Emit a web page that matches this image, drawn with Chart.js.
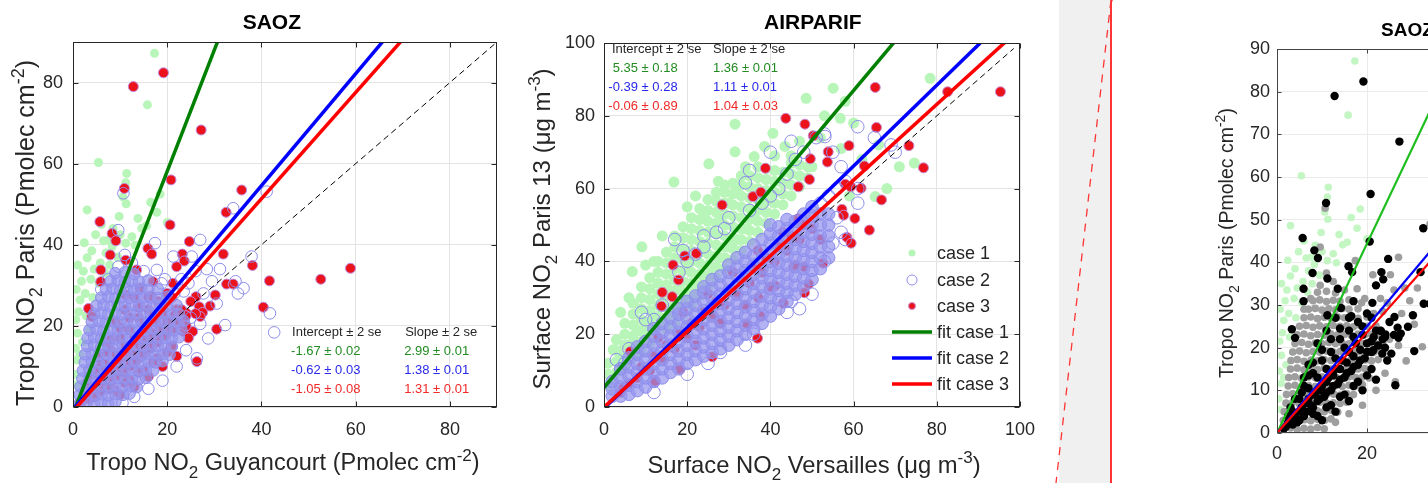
<!DOCTYPE html>
<html>
<head>
<meta charset="utf-8">
<script src="https://cdn.jsdelivr.net/npm/chart.js@4.4.1/dist/chart.umd.min.js"></script>
<style>
  html, body { margin: 0; padding: 0; width: 1428px; height: 483px; overflow: hidden; background: #fff; }
  .panel { position: absolute; top: 0; }
  #p1 { left: 0; width: 520px; height: 483px; }
  #p2 { left: 520px; width: 540px; height: 483px; }
  #gray { position: absolute; left: 1059px; top: 0; width: 52px; height: 483px; background: #f0f0f0; }
  #cut { position: absolute; left: 0; top: 0; }
  #frame { position: absolute; left: 1110px; top: -3px; width: 400px; height: 600px; border-left: 2px solid #ff3434; border-top: 2px solid #ff3434; border-top-left-radius: 6px; }
  #p3 { left: 1112px; width: 316px; height: 483px; overflow: hidden; }
  canvas { display: block; }
</style>
</head>
<body>
<div class="panel" id="p1"><canvas id="cv1" width="520" height="483"></canvas></div>
<div class="panel" id="p2"><canvas id="cv2" width="540" height="483"></canvas></div>
<div id="gray"></div>
<svg id="cut" width="1428" height="483"><line x1="1111" y1="0" x2="1056" y2="483" stroke="#ff3434" stroke-width="1.3" stroke-dasharray="8 7"/></svg>
<div id="frame"></div>
<div class="panel" id="p3"><canvas id="cv3" width="480" height="510"></canvas></div>
<script>
const FONT = '"Liberation Sans", Arial, Helvetica, sans-serif';
const INK = '#262626';

// ---- SAOZ: tropospheric NO2 columns (Pmolec cm-2) ----
const saozTicks = [0, 20, 40, 60, 80];
const saozOneToOne = [0, 90];
const saozIntercept = [-1.67, -0.62, -1.05];
const saozInterceptSe = [0.02, 0.03, 0.08];
const saozSlope = [2.99, 1.38, 1.31];
const saozSlopeSe = [0.01, 0.01, 0.01];

const saozCase1 = [
  [17.3,87.2],[15.8,74.5],[5.4,60.3],[11.4,57.6],[11.2,55.3],[10.6,51.8],[11.3,50.1],[3.0,48.6],[9.8,47.0],[17.8,48.0],
  [14.6,44.1],[15.6,44.7],[6.5,41.0],[7.6,41.2],[11.2,40.4],[13.2,39.9],[3.0,36.8],[8.3,39.5],[5.8,35.5],[9.5,37.0],
  [1.5,26.4],[2.6,28.0],[1.0,18.2],[0.9,11.6],[0.4,8.0],[0.5,14.5],[0.6,21.5],[1.2,23.5],[1.8,31.0],[2.2,33.5],
  [3.8,31.5],[4.5,34.0],[4.2,27.0],[5.5,30.5],[6.8,33.0],[7.8,35.0],[2.8,22.5],[3.5,19.0],[2.0,16.0],[1.5,13.0],
  [0.8,5.5],[4.8,42.5],[8.5,44.0],[12.5,42.0],[13.8,46.5],[16.5,50.5],[18.5,52.5],[20.0,45.5],[10.0,42.5],[2.4,40.5],
  [0.7,29.0],[1.0,35.0],[4.0,38.5],[6.0,45.0],[7.0,38.0]
];

// case 2, dense core of the cloud
const saozCase2Core = [
  [1.5,1],[3,1.2],[4.5,0.8],[6,1.1],[7.5,0.9],[9,1.3],
  [1.4,3],[3,3.2],[4.6,2.8],[6.1,3.1],[7.5,2.9],[9,3.2],[10.6,3],[12,3.3],
  [1.6,5],[3.1,5.2],[4.5,4.8],[6,5.1],[7.6,4.9],[9,5.2],[10.5,5],[12.1,5.3],[13.5,4.9],
  [2,7],[3.5,7.2],[5,6.8],[6.5,7.1],[8,6.9],[9.5,7.2],[11,7],[12.5,7.1],[14,6.9],[15.5,7.2],
  [2.1,9],[3.5,9.2],[5,8.8],[6.6,9.1],[8,8.9],[9.5,9.2],[11,9],[12.6,9.1],[14,8.9],[15.5,9.2],[17,9],
  [2.5,11],[4,11.2],[5.5,10.8],[7,11.1],[8.5,10.9],[10,11.2],[11.5,11],[13,11.1],[14.5,10.9],[16,11.2],[17.5,11],[19,11.3],
  [2.6,13],[4,13.2],[5.5,12.8],[7,13.1],[8.6,12.9],[10,13.2],[11.5,13],[13,13.1],[14.6,12.9],[16,13.2],[17.5,13],[19,13.1],[20.5,12.9],
  [3,15],[4.5,15.2],[6,14.8],[7.5,15.1],[9,14.9],[10.5,15.2],[12,15],[13.5,15.1],[15,14.9],[16.5,15.2],[18,15],[19.5,15.1],[21,14.9],
  [3.1,17],[4.5,17.2],[6,16.8],[7.6,17.1],[9,16.9],[10.5,17.2],[12,17],[13.6,17.1],[15,16.9],[16.5,17.2],[18,17],[19.6,17.1],[21,16.9],[22.5,17.2],
  [3.5,19],[5,19.2],[6.5,18.8],[8,19.1],[9.5,18.9],[11,19.2],[12.5,19],[14,19.1],[15.5,18.9],[17,19.2],[18.5,19],[20,19.1],[21.5,18.9],[23,19.2],
  [4,21],[5.5,21.2],[7,20.8],[8.5,21.1],[10,20.9],[11.5,21.2],[13,21],[14.5,21.1],[16,20.9],[17.5,21.2],[19,21],[20.5,21.1],[22,20.9],[23.5,21.2],
  [4.5,23],[6,23.2],[7.5,22.8],[9,23.1],[10.5,22.9],[12,23.2],[13.5,23],[15,23.1],[16.5,22.9],[18,23.2],[19.5,23],[21,23.1],[22.5,22.9],
  [5,25],[6.5,25.2],[8,24.8],[9.5,25.1],[11,24.9],[12.5,25.2],[14,25],[15.5,25.1],[17,24.9],[18.5,25.2],[20,25],[22,25.1],
  [6,27],[7.5,27.2],[9,26.8],[10.5,27.1],[12,26.9],[13.5,27.2],[15,27],[16.5,27.1],[18,26.9],[20,27.2],
  [7,29],[8.5,29.2],[10,28.8],[11.5,29.1],[13,28.9],[14.5,29.2],[16,29],[18,29.1],
  [8,31],[9.5,31.2],[11,30.8],[12.5,31.1],[14,30.9],[16,31.2],
  [9,33],[11,33.2],[13,32.8]
];
// case 2, isolated circles around the cloud
const saozCase2Outer = [
  [41.1,53.1],[34.0,49.0],[27.0,41.2],[37.9,37.1],[36.2,29.3],[41.8,23.1],[42.7,18.4],[32.3,20.2],[28.7,16.9],[26.3,12.0],
  [10.7,52.7],[9.6,43.6],[17.4,40.4],[18.8,30.5],[9.6,34.6],[21.3,37.1],[25.2,37.1],[28.4,34.0],[27.7,28.0],[31.2,34.0],
  [17.8,33.8],[24.5,30.5],[26,33.5],[29.5,31],[30.5,25.5],[23.5,28.5],[25,22],[27,20.5],[21.5,28],[19.5,31.5],
  [15,33.5],[12.5,35.5],[11,37.5],[7.5,31.5],[6,29],[23,31.5],[34.5,31],[22,10],[24,14],[19,6.5],[16,4.5],[13,2.5],[10.5,1],[35,28]
];
const saozCase2 = saozCase2Core.concat(saozCase2Outer);

const saozCase3 = [
  [19.2,82.4],[12.8,79.0],[27.2,68.3],[20.8,56.0],[35.8,53.5],[10.9,53.9],[20.6,44.9],[32.5,48.0],[5.7,45.7],[8.3,42.8],
  [9.1,41.0],[7.9,37.5],[11.2,36.2],[15.9,39.1],[16.7,37.7],[24.7,40.8],[23.2,37.7],[23.6,36.0],[31.9,37.7],[38.1,34.9],
  [41.7,31.1],[52.6,31.5],[58.9,34.2],[40.4,24.6],[32.6,30.3],[34.0,30.3],[30.2,27.6],[5.9,33.8],[5.9,30.9],[13.5,33.8],
  [14.2,29.3],[11.2,27.6],[17.0,30.9],[16.5,27.4],[21.2,30.5],[22.0,34.6],[26.1,27.2],[29.1,24.9],[23.1,23.9],[24.1,23.1],
  [21.4,19.4],[23.4,18.6],[25.4,18.6],[30.5,19.2],[26.3,11.2],[3.3,24.3],[4.0,22.3],[26.8,24.7],[27.5,23.3],[27.0,22.3],
  [1.5,1],[2.5,2.5],[3.5,2],[4,4],[5,3],[5.5,6],[6.5,5],[7,8],[8,6],[8.5,9.5],[9.5,8],[10,11],[11,9.5],[11.5,13],
  [12.5,11],[13,15],[14,12.5],[14.5,17],[15.5,14],[16,19],[17,15.5],[17.5,21],[18.5,17],[19,23],[20,19],[21,21.5],
  [22,24],[23.5,22],[6,11],[8,14],[10,17],[12,19],[14,22],[16,24],[18,26],[20,28],[4,8],[3,6],[9,4],[12,6.5],[15,9],
  [18,12],[21,15],[7,16],[9,21],[11,24],[13,27],[24,20],[25,26],[26,23],
  [2,1.5],[3,3.5],[4.5,2.5],[5,5],[6,4],[6.5,7],[7.5,6.5],[8,9],[9,7.5],[9.5,10],[10.5,8.5],[11,12],[12,10],[12.5,13.5],
  [13.5,11.5],[14,15],[15,13],[15.5,16.5],[16.5,14.5],[17,18],[18,16],[18.5,19.5],[19.5,17.5],[20,21],[21,19],[21.5,22.5],
  [22.5,20.5],[23,24],[24,22.5],[24.5,17],[5,8],[7,10.5],[9,13],[11,15],[13,17.5],[15,20],[17,22.5],[19,25],[21,27],
  [6,13],[8,16.5],[10,19.5],[12,22],[14,24.5],[16,27],[10,3],[13,5],[16,7.5],[19,10],[22,12.5],[20,13.5],[17,11],
  [14,8.5],[11,6],[8,4.5],[5.5,9.5],[7,13.5],[3.5,5],[2.5,4]
];

// ---- AIRPARIF: surface NO2 (ug m-3) ----
const airTicks = [0, 20, 40, 60, 80, 100];
const airOneToOne = [0, 98.5];
const airIntercept = [5.35, -0.39, -0.06];
const airInterceptSe = [0.18, 0.28, 0.89];
const airSlope = [1.36, 1.11, 1.04];
const airSlopeSe = [0.01, 0.01, 0.03];

const airCase1 = [
  [1,6],[1,9],[1,12],
  [3,9.5],[3,12.5],[3,15.5],[3,18.5],
  [5,11],[5,14],[5,17],[5,20],[5,23],
  [7,13.5],[7,16.5],[7,19.5],[7,22.5],[7,25.5],[7,28.5],
  [9,15],[9,18],[9,21],[9,24],[9,27],[9,30],[9,33],
  [11,17.5],[11,20.5],[11,23.5],[11,26.5],[11,29.5],[11,32.5],[11,35.5],
  [13,19],[13,22],[13,25],[13,28],[13,31],[13,34],[13,37],[13,40],
  [15,21.5],[15,24.5],[15,27.5],[15,30.5],[15,33.5],[15,36.5],[15,39.5],[15,42.5],
  [17,23],[17,26],[17,29],[17,32],[17,35],[17,38],[17,41],[17,44],[17,47],
  [19,25.5],[19,28.5],[19,31.5],[19,34.5],[19,37.5],[19,40.5],[19,43.5],[19,46.5],[19,49.5],
  [21,28],[21,31],[21,34],[21,37],[21,40],[21,43],[21,46],[21,49],[21,52],
  [23,30.5],[23,33.5],[23,36.5],[23,39.5],[23,42.5],[23,45.5],[23,48.5],[23,51.5],[23,54.5],
  [25,33],[25,36],[25,39],[25,42],[25,45],[25,48],[25,51],[25,54],[25,57],
  [27,35.5],[27,38.5],[27,41.5],[27,44.5],[27,47.5],[27,50.5],[27,53.5],[27,56.5],[27,59],
  [29,38],[29,41],[29,44],[29,47],[29,50],[29,53],[29,56],[29,59],[29,61],
  [31,40.5],[31,43.5],[31,46.5],[31,49.5],[31,52.5],[31,55.5],[31,58.5],[31,61.5],
  [33,43],[33,46],[33,49],[33,52],[33,55],[33,58],[33,61],[33,63.5],
  [35,45.5],[35,48.5],[35,51.5],[35,54.5],[35,57.5],[35,60.5],[35,63.5],
  [37,48],[37,51],[37,54],[37,57],[37,60],[37,63],[37,66],
  [39,50.5],[39,53.5],[39,56.5],[39,59.5],[39,62.5],[39,65.5],
  [41,53],[41,56],[41,59],[41,62],[41,65],
  [43,55.5],[43,58.5],[43,61.5],[43,64.5],
  [45,58],[45,61],[45,64],[45,67],
  [47,60.5],[47,63.5],[47,66.5],
  [49,63],[49,66],
  [2,8],[4,11],[4,14],[6,13],[6,17],[8,17],[8,21],[10,19],[10,23],[12,21],[12,25],[14,24],[14,29],[16,26],[16,31],
  [18,28],[18,34],[20,31],[20,38],[22,33],[22,41],[24,36],[24,44],[26,38],[26,48],[28,41],[28,52],[30,44],[30,56],
  [32,46],[32,59],[34,49],[36,52],[38,55],[40,58],
  [16.8,61.8],[25.2,66.8],[31.5,77.7],[31.5,70.1],[36.1,68.8],[38.6,71.6],[40.6,75.2],[43.5,71.6],[48.6,84.8],[55.1,87.6],
  [56.8,79.3],[78.4,90.3],[74.6,67.0],[65.2,57.8],[9.1,44],[6.8,37.2],[2.2,15.7],[22,58],[27.5,62],[34,66],
  [45,69],[52,74],[57,71],[62,68],[66,72],[68,60],[71,66],[59,58],[60,78],[50,66],
  [47,73],[41,69],[58,84],[53,80],[24,53],[20,55],[12,40],[14,47],[10,39],[4,26],[6,30]
];

const airCase2Core = [
  [2,3],[2,5],[2,7],
  [4,3],[4,5.5],[4,8],[4,10.5],
  [6,3.5],[6,6],[6,8.5],[6,11],[6,13.5],
  [8,4.5],[8,7],[8,9.5],[8,12],[8,14.5],[8,16.5],
  [10,5.5],[10,8],[10,10.5],[10,13],[10,15.5],[10,18],
  [12,7],[12,9.5],[12,12],[12,14.5],[12,17],[12,19.5],[12,21.5],
  [14,8],[14,10.5],[14,13],[14,15.5],[14,18],[14,20.5],[14,23],
  [16,9.5],[16,12],[16,14.5],[16,17],[16,19.5],[16,22],[16,24.5],
  [18,10.5],[18,13],[18,15.5],[18,18],[18,20.5],[18,23],[18,25.5],[18,27],
  [20,12],[20,14.5],[20,17],[20,19.5],[20,22],[20,24.5],[20,27],[20,29],
  [22,13],[22,15.5],[22,18],[22,20.5],[22,23],[22,25.5],[22,28],[22,30.5],
  [24,14],[24,16.5],[24,19],[24,21.5],[24,24],[24,26.5],[24,29],[24,31.5],[24,33],
  [26,15],[26,17.5],[26,20],[26,22.5],[26,25],[26,27.5],[26,30],[26,32.5],[26,35],
  [28,16],[28,18.5],[28,21],[28,23.5],[28,26],[28,28.5],[28,31],[28,33.5],[28,36],
  [30,17],[30,19.5],[30,22],[30,24.5],[30,27],[30,29.5],[30,32],[30,34.5],[30,37],[30,39],
  [32,18.5],[32,21],[32,23.5],[32,26],[32,28.5],[32,31],[32,33.5],[32,36],[32,38.5],[32,41],
  [34,20],[34,22.5],[34,25],[34,27.5],[34,30],[34,32.5],[34,35],[34,37.5],[34,40],[34,42.5],
  [36,21.5],[36,24],[36,26.5],[36,29],[36,31.5],[36,34],[36,36.5],[36,39],[36,41.5],[36,44.5],
  [38,23],[38,25.5],[38,28],[38,30.5],[38,33],[38,35.5],[38,38],[38,40.5],[38,43],[38,46],
  [40,25],[40,27.5],[40,30],[40,32.5],[40,35],[40,37.5],[40,40],[40,42.5],[40,45],[40,47.5],[40,50],
  [42,27],[42,29.5],[42,32],[42,34.5],[42,37],[42,39.5],[42,42],[42,44.5],[42,47],[42,49.5],
  [44,29],[44,31.5],[44,34],[44,36.5],[44,39],[44,41.5],[44,44],[44,46.5],[44,49],[44,51.5],
  [46,31],[46,33.5],[46,36],[46,38.5],[46,41],[46,43.5],[46,46],[46,48.5],[46,51],
  [48,33],[48,35.5],[48,38],[48,40.5],[48,43],[48,45.5],[48,48],[48,50.5],[48,53],
  [50,35],[50,37.5],[50,40],[50,42.5],[50,45],[50,47.5],[50,50],[50,52.5],[50,55],
  [52,38],[52,41],[52,44],[52,47],[52,50],[52,53],
  [54,41],[54,44],[54,47],[54,50],[54,53]
];
const airCase2Outer = [
  [3,13],[9,26],[10,24],[17,46],[19,43],[29,49],[34,61.6],[35,65],[40,70],[45,73],
  [51,74],[53.1,74.3],[55,70],[57,66],[61,77],[61,60],[61,56],[65,74],[69,72],[70,70],
  [53,75],[48,70],[46,68],[44,64],[42,60],[40,58],[38,56],[35,54],[30,52],[27,48],
  [24,44],[22,42],[20,40],[14,28],[12,24],[6,16],[5,12],[56,60],[58,62],[54,58],
  [52,56],[56,52],[57,48],[58,46],[12,4],[20,9],[28,15],[36,20],[44,26],[50,31],
  [53,40],[55,45],[25,12],[34,17],[45,29],[47,27],[24,47],[18,37]
];
const airCase2 = airCase2Core.concat(airCase2Outer);

const airCase3 = [
  [43.7,79.3],[48.3,77.7],[50.3,74.5],[65.2,87.8],[82.6,86.6],[95.3,86.6],[73.3,71.8],[58.9,71.8],[49.6,68.2],[53.7,67.3],
  [38.8,65.6],[76.8,65.7],[65.5,76.8],[53.9,70.1],[49.4,62.5],[28.4,55.5],[35.8,57.8],[37.7,59.0],[46.7,60.5],[58.0,61.2],
  [59.3,60.5],[61.8,60.1],[62.6,66.2],[57.2,54.3],[57.6,52.7],[60.3,51.8],[66.7,56.9],[63.8,48.6],[58.4,46.6],[59.4,45.0],
  [46.7,51.7],[52.6,39.5],[19.4,41.5],[16.6,39.0],[17.9,34.9],[14.0,31.5],[16.4,30.3],[13.8,27.7],[36.9,18.9],[26.0,13.8],
  [18.2,10.4],[12.3,7.1],[43.1,28.5],[41.1,33.3],[49.2,33.8],[48.2,31.4],[37.7,24.9],[34.4,22.8],[37.1,30.0],[45.6,38.5],
  [48.1,38.5],[22.2,42.2],[4.6,5.1],[6.3,15.2],
  [4,4],[6,6.5],[8,8],[9,11],[11,10],[12,14],[14,13],[15,17],[17,16],[18,20],[20,19],[21,23],[23,22],[24,26],
  [26,25],[27,29],[29,28],[30,32],[32,31],[33,35],[35,34],[36,38],[38,37],[39,41],[41,40],[42,44],[44,43],[45,47],
  [47,46],[48,50],[50,49],[13,19],[19,26],[25,31],[31,37],[37,43],[43,48],[22,17],[28,23],[34,28],[40,33],[46,39],[52,46]
];

// ---- third panel (same SAOZ data, other colouring, cut by the page edge) ----
const saoz3TicksX = [0, 20, 40, 60];
const saoz3TicksY = [0, 10, 20, 30, 40, 50, 60, 70, 80, 90];
const saoz3Intercept = [0, 0, 0];
const saoz3Slope = [2.22, 1.25, 1.18];

const pts = a => a.map(p => ({ x: p[0], y: p[1] }));
const fit = (b, m, x0, x1) => [{ x: x0, y: b + m * x0 }, { x: x1, y: b + m * x1 }];
const diag = r => [{ x: r[0], y: r[0] }, { x: r[1], y: r[1] }];

function rich(ctx, parts, cx, cy, size, rot) {
  const small = Math.round(size * 0.72);
  let w = 0;
  parts.forEach(p => { ctx.font = (p[1] ? small : size) + 'px ' + FONT; w += ctx.measureText(p[0]).width; });
  ctx.save();
  ctx.translate(cx, cy);
  ctx.rotate(rot);
  ctx.textAlign = 'left';
  ctx.textBaseline = 'alphabetic';
  ctx.fillStyle = INK;
  let x = -w / 2;
  parts.forEach(p => {
    ctx.font = (p[1] ? small : size) + 'px ' + FONT;
    const dy = p[1] === 1 ? size * 0.32 : p[1] === 2 ? -size * 0.42 : 0;
    ctx.fillText(p[0], x, size * 0.36 + dy);
    x += ctx.measureText(p[0]).width;
  });
  ctx.restore();
}

const decor = {
  id: 'decor',
  afterDatasetsDraw(chart, args, o) {
    const { ctx, chartArea: a } = chart;
    const sx = chart.scales.x, sy = chart.scales.y;
    ctx.save();
    const L = Math.round(a.left) + 0.5, R = Math.round(a.right) - 0.5;
    const T = Math.round(a.top) + 0.5, B = Math.round(a.bottom) - 0.5;
    ctx.strokeStyle = o.boxColor;
    ctx.lineWidth = 1;
    ctx.strokeRect(L, T, R - L, B - T);
    ctx.beginPath();
    sx.ticks.forEach(t => {
      const p = Math.round(sx.getPixelForValue(t.value)) + 0.5;
      ctx.moveTo(p, B); ctx.lineTo(p, B - o.tick);
      ctx.moveTo(p, T); ctx.lineTo(p, T + o.tick);
    });
    sy.ticks.forEach(t => {
      const p = Math.round(sy.getPixelForValue(t.value)) + 0.5;
      ctx.moveTo(L, p); ctx.lineTo(L + o.tick, p);
      ctx.moveTo(R, p); ctx.lineTo(R - o.tick, p);
    });
    ctx.stroke();
    ctx.restore();
  },
  afterDraw(chart, args, o) {
    const { ctx } = chart;
    const sx = chart.scales.x, sy = chart.scales.y;
    ctx.save();
    // stats table
    if (o.table) {
      const t = o.table;
      ctx.font = t.size + 'px ' + FONT;
      ctx.textBaseline = 'middle';
      ctx.fillStyle = INK;
      ctx.textAlign = 'left';
      ctx.fillText('Intercept \u00b1 2 se', sx.getPixelForValue(t.headX[0]), sy.getPixelForValue(t.headY));
      ctx.fillText('Slope \u00b1 2 se', sx.getPixelForValue(t.headX[1]), sy.getPixelForValue(t.headY));
      t.rows.forEach((ry, i) => {
        ctx.fillStyle = t.colors[i];
        ctx.textAlign = 'right';
        ctx.fillText(t.b[i].toFixed(2) + ' \u00b1 ' + t.bse[i].toFixed(2), sx.getPixelForValue(t.bRight), sy.getPixelForValue(ry));
        ctx.textAlign = 'left';
        ctx.fillText(t.m[i].toFixed(2) + ' \u00b1 ' + t.mse[i].toFixed(2), sx.getPixelForValue(t.mLeft), sy.getPixelForValue(ry));
      });
    }
    // legend inside the axes
    if (o.legend) {
      const g = o.legend;
      ctx.font = g.size + 'px ' + FONT;
      ctx.textAlign = 'left';
      ctx.textBaseline = 'middle';
      g.items.forEach((label, i) => {
        const ds = chart.data.datasets.find(d => d.label === label);
        const y = g.rows[i];
        if (ds.showLine) {
          ctx.strokeStyle = ds.borderColor;
          ctx.lineWidth = ds.borderWidth;
          ctx.beginPath(); ctx.moveTo(g.lineX[0], y); ctx.lineTo(g.lineX[1], y); ctx.stroke();
        } else {
          ctx.beginPath();
          ctx.arc(g.markX, y, ds.legendRadius, 0, Math.PI * 2);
          if (!ds.legendOpen) { ctx.fillStyle = ds.legendFill || ds.backgroundColor; ctx.fill(); }
          if (ds.borderWidth) { ctx.lineWidth = 1; ctx.strokeStyle = ds.borderColor; ctx.stroke(); }
        }
        ctx.fillStyle = INK;
        ctx.fillText(label, g.textX, y + 1);
      });
    }
    // title
    ctx.font = 'bold ' + o.title.size + 'px ' + FONT;
    ctx.fillStyle = '#000';
    ctx.textAlign = 'center';
    ctx.textBaseline = 'middle';
    ctx.fillText(o.title.text, sx.getPixelForValue(o.title.x), o.title.y);
    // axis labels with sub/superscripts
    rich(ctx, o.xTitle.parts, o.xTitle.cx, o.xTitle.cy, o.xTitle.size, 0);
    rich(ctx, o.yTitle.parts, o.yTitle.cx, o.yTitle.cy, o.yTitle.size, -Math.PI / 2);
    ctx.restore();
  }
};

function axis(ticks, min, max, pad, size, fitSize, isX, gridColor) {
  return {
    type: 'linear', min, max,
    afterBuildTicks: s => { s.ticks = ticks.map(v => ({ value: v })); },
    afterFit: s => { if (isX) s.height = fitSize; else s.width = fitSize; },
    grid: { color: gridColor, drawTicks: false, lineWidth: 1 },
    border: { display: false },
    ticks: { color: INK, font: { family: FONT, size }, padding: pad, maxRotation: 0, autoSkip: false, callback: v => String(v) }
  };
}

function lineSet(label, data, color, width, order, dash) {
  return { label, data, order, showLine: true, pointRadius: 0, pointHoverRadius: 0,
           borderColor: color, backgroundColor: color, borderWidth: width, borderDash: dash || [], clip: 0 };
}

function baseOptions(pad, xAxis, yAxis, decorOpts) {
  return {
    responsive: false, animation: false, devicePixelRatio: 1, events: [],
    layout: { padding: pad },
    scales: { x: xAxis, y: yAxis },
    plugins: { legend: { display: false }, tooltip: { enabled: false }, title: { display: false }, decor: decorOpts }
  };
}

const GREEN = 'rgb(0,128,0)', BLUE = 'rgb(0,0,255)', RED = 'rgb(255,0,0)';
const TXT = ['rgb(34,139,34)', 'rgb(40,40,235)', 'rgb(240,40,40)'];
const LAV_FILL = 'rgba(150,150,238,0.72)', LAV_EDGE = 'rgb(140,140,236)';
const MINT = 'rgb(184,245,184)';
// overlapping open circles read as a solid fill in the core; isolated ones stay open
const lavFill = nCore => c => (c.dataIndex < nCore ? LAV_FILL : 'rgba(255,255,255,0)');

// ---- chart 1: SAOZ ----
new Chart(document.getElementById('cv1'), {
  type: 'scatter',
  data: {
    datasets: [
      { label: 'case 1', data: pts(saozCase1), order: 10, pointRadius: 4.5, backgroundColor: MINT, borderWidth: 0 },
      { label: 'case 3', data: pts(saozCase3), order: 9, pointRadius: 5, backgroundColor: 'rgb(236,18,28)', borderColor: 'rgb(190,140,225)', borderWidth: 1 },
      { label: 'case 2', data: pts(saozCase2), order: 8, pointRadius: 5.8, backgroundColor: lavFill(saozCase2Core.length), borderColor: LAV_EDGE, borderWidth: 1 },
      lineSet('1:1', diag(saozOneToOne), '#000', 1, 4, [6, 4]),
      lineSet('fit case 1', fit(saozIntercept[0], saozSlope[0], 0, 90), GREEN, 3.5, 3),
      lineSet('fit case 2', fit(saozIntercept[1], saozSlope[1], 0, 90), BLUE, 3.5, 2),
      lineSet('fit case 3', fit(saozIntercept[2], saozSlope[2], 0, 90), RED, 3.5, 1)
    ]
  },
  options: baseOptions({ top: 42, right: 23, left: 0, bottom: 0 },
    axis(saozTicks, 0, 90, 12, 18, 76, true, '#e3e3e3'),
    axis(saozTicks, 0, 90, 10, 18, 73, false, '#e3e3e3'),
    {
      boxColor: INK, tick: 5,
      title: { text: 'SAOZ', x: 42.2, y: 23, size: 21 },
      xTitle: { parts: [['Tropo NO', 0], ['2', 1], [' Guyancourt (Pmolec cm', 0], ['-2', 2], [')', 0]], cx: 283, cy: 462, size: 23.5 },
      yTitle: { parts: [['Tropo NO', 0], ['2', 1], [' Paris (Pmolec cm', 0], ['-2', 2], [')', 0]], cx: 25, cy: 233, size: 25 },
      table: { size: 13, headX: [46.5, 70.5], headY: 18.4, rows: [13.6, 9.1, 4.4], bRight: 61, mLeft: 70.3,
               b: saozIntercept, bse: saozInterceptSe, m: saozSlope, mse: saozSlopeSe, colors: TXT }
    }),
  plugins: [decor]
});

// ---- chart 2: AIRPARIF ----
new Chart(document.getElementById('cv2'), {
  type: 'scatter',
  data: {
    datasets: [
      { label: 'case 1', data: pts(airCase1), order: 10, pointRadius: 5.5, backgroundColor: MINT, borderWidth: 0, legendRadius: 3.5 },
      { label: 'case 3', data: pts(airCase3), order: 9, pointRadius: 5, backgroundColor: 'rgb(236,18,28)', borderColor: 'rgb(200,140,210)', borderWidth: 1, legendRadius: 3.5 },
      { label: 'case 2', data: pts(airCase2), order: 8, pointRadius: 6.3, backgroundColor: lavFill(airCase2Core.length), borderColor: LAV_EDGE, borderWidth: 1, legendRadius: 5, legendOpen: true },
      lineSet('1:1', diag(airOneToOne), '#000', 1, 4, [6, 4]),
      lineSet('fit case 1', fit(airIntercept[0], airSlope[0], 0, 100), GREEN, 3.5, 3),
      lineSet('fit case 2', fit(airIntercept[1], airSlope[1], 0, 100), BLUE, 3.5, 2),
      lineSet('fit case 3', fit(airIntercept[2], airSlope[2], 0, 100), RED, 3.5, 1)
    ]
  },
  options: baseOptions({ top: 43, right: 40, left: 0, bottom: 0 },
    axis(airTicks, 0, 100, 12, 18, 76, true, '#e3e3e3'),
    axis(airTicks, 0, 100, 9, 18, 84, false, '#e3e3e3'),
    {
      boxColor: INK, tick: 5,
      title: { text: 'AIRPARIF', x: 50.2, y: 23, size: 21 },
      xTitle: { parts: [['Surface NO', 0], ['2', 1], [' Versailles (\u03bcg m', 0], ['-3', 2], [')', 0]], cx: 294, cy: 464, size: 23.8 },
      yTitle: { parts: [['Surface NO', 0], ['2', 1], [' Paris 13 (\u03bcg m', 0], ['-3', 2], [')', 0]], cx: 21, cy: 229, size: 24 },
      table: { size: 13, headX: [1.9, 26.2], headY: 98.1, rows: [92.9, 87.7, 82.7], bRight: 17.7, mLeft: 26.2,
               b: airIntercept, bse: airInterceptSe, m: airSlope, mse: airSlopeSe, colors: TXT },
      legend: { size: 18, items: ['case 1', 'case 2', 'case 3', 'fit case 1', 'fit case 2', 'fit case 3'],
                rows: [253, 280, 306, 332, 358, 384], markX: 392, lineX: [372, 412], textX: 417 }
    }),
  plugins: [decor]
});

// ---- chart 3: SAOZ again (cropped by the page edge) ----
new Chart(document.getElementById('cv3'), {
  type: 'scatter',
  data: {
    datasets: [
      { label: 'case 1', data: pts(saozCase1), order: 10, pointRadius: 3.8, backgroundColor: 'rgb(196,246,196)', borderWidth: 0 },
      { label: 'case 2', data: pts(saozCase2), order: 9, pointRadius: 3.8, backgroundColor: 'rgb(158,158,158)', borderWidth: 0 },
      { label: 'case 3', data: pts(saozCase3), order: 8, pointRadius: 4.2, backgroundColor: '#000', borderWidth: 0 },
      lineSet('fit case 1', fit(saoz3Intercept[0], saoz3Slope[0], 0, 60), 'rgb(30,190,30)', 2.2, 3),
      lineSet('fit case 2', fit(saoz3Intercept[1], saoz3Slope[1], 0, 60), BLUE, 2.2, 2),
      lineSet('fit case 3', fit(saoz3Intercept[2], saoz3Slope[2], 0, 60), RED, 2.2, 1)
    ]
  },
  options: baseOptions({ top: 49, right: 45, left: 0, bottom: 0 },
    axis(saoz3TicksX, 0, 60, 10, 18, 77, true, '#ebebeb'),
    axis(saoz3TicksY, 0, 90, 7, 18, 165, false, '#ebebeb'),
    {
      boxColor: '#444', tick: 4,
      title: { text: 'SAOZ', x: 29, y: 31, size: 19 },
      xTitle: { parts: [['Tropo NO', 0], ['2', 1], [' Guyancourt (Pmolec cm', 0], ['-2', 2], [')', 0]], cx: 280, cy: 491, size: 19.5 },
      yTitle: { parts: [['Tropo NO', 0], ['2', 1], [' Paris (Pmolec cm', 0], ['-2', 2], [')', 0]], cx: 114, cy: 243, size: 19.5 }
    }),
  plugins: [decor]
});
</script>
</body>
</html>
